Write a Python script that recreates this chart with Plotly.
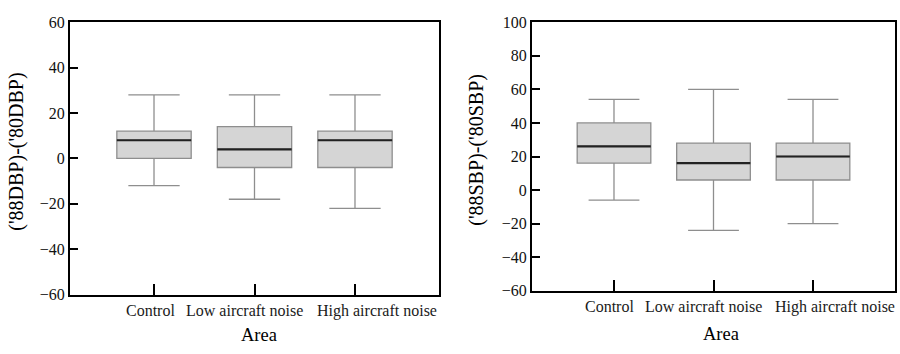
import plotly.graph_objects as go

categories = ["Control", "Low aircraft noise", "High aircraft noise"]

# Diastolic BP change ('88DBP)-('80DBP)
dbp_lower = [-12, -18, -22]
dbp_q1 = [0, -4, -4]
dbp_median = [8, 4, 8]
dbp_q3 = [12, 14, 12]
dbp_upper = [28, 28, 28]

# Systolic BP change ('88SBP)-('80SBP)
sbp_lower = [-6, -24, -20]
sbp_q1 = [16, 6, 6]
sbp_median = [26, 16, 20]
sbp_q3 = [40, 28, 28]
sbp_upper = [54, 60, 54]

y_titles = ["('88DBP)-('80DBP)", "('88SBP)-('80SBP)"]
x_title = "Area"
y_ranges = [[-60, 60], [-60, 100]]

SERIF = "Liberation Serif, Times New Roman, serif"
BOX_W = 0.74
GRAY = "#8e8e8e"

fig = go.Figure()

panels = [
    ("x", "y", dbp_lower, dbp_q1, dbp_median, dbp_q3, dbp_upper),
    ("x2", "y2", sbp_lower, sbp_q1, sbp_median, sbp_q3, sbp_upper),
]

for xa, ya, lo, q1, med, q3, up in panels:
    fig.add_trace(go.Box(
        x=categories, q1=q1, median=med, q3=q3,
        lowerfence=lo, upperfence=up,
        xaxis=xa, yaxis=ya,
        width=BOX_W, whiskerwidth=0.69,
        fillcolor="#d5d5d5",
        line=dict(color=GRAY, width=1.3),
        boxpoints=False, showlegend=False, hoverinfo="skip",
    ))
    # median line drawn as a degenerate box in black
    fig.add_trace(go.Box(
        x=categories, q1=med, median=med, q3=med,
        lowerfence=med, upperfence=med,
        xaxis=xa, yaxis=ya,
        width=BOX_W, whiskerwidth=0,
        fillcolor="rgba(0,0,0,0)",
        line=dict(color="#222222", width=2.2),
        boxpoints=False, showlegend=False, hoverinfo="skip",
    ))

axis_common = dict(
    showline=True, linecolor="black", linewidth=2, mirror=True,
    showgrid=False, zeroline=False,
    ticks="inside", tickcolor="black", tickwidth=2,
)

fig.update_layout(
    width=900, height=354,
    margin=dict(l=0, r=0, t=0, b=0),
    plot_bgcolor="white", paper_bgcolor="white",
    boxmode="overlay",
    font=dict(family=SERIF, color="black"),
    xaxis=dict(domain=[70/900, 439/900], type="category",
               range=[-0.836, 2.836], ticklen=11, showticklabels=False,
               anchor="y", **axis_common),
    yaxis=dict(domain=[1-301/354, 1-15/354], range=y_ranges[0], dtick=20,
               ticklen=8, tickfont=dict(size=16, family=SERIF, color="#111111"),
               anchor="x", **axis_common),
    xaxis2=dict(domain=[532/900, 895/900], type="category",
                range=[-0.824, 2.824], ticklen=11, showticklabels=False,
                anchor="y2", **axis_common),
    yaxis2=dict(domain=[1-297/354, 1-15/354], range=y_ranges[1], dtick=20,
                ticklen=8, tickfont=dict(size=16, family=SERIF, color="#111111"),
                anchor="x2", **axis_common),
)

label_shifts = [-4, -10, 22]
annotations = []
for xref, yref in [("x", "y domain"), ("x2", "y2 domain")]:
    for cat, sh in zip(categories, label_shifts):
        annotations.append(dict(
            x=cat, y=0, xref=xref, yref=yref, xanchor="center", yanchor="top",
            xshift=sh, yshift=-5, showarrow=False, text=cat,
            font=dict(size=16, family=SERIF, color="#1a1a1a"),
        ))

# axis titles
annotations += [
    dict(x=17/900, y=(1-301/354 + 1-15/354)/2 + 0.02, xref="paper", yref="paper",
         text=y_titles[0], textangle=-90, showarrow=False,
         xanchor="center", yanchor="middle", font=dict(size=20, family=SERIF)),
    dict(x=477/900, y=(1-297/354 + 1-15/354)/2 + 0.02, xref="paper", yref="paper",
         text=y_titles[1], textangle=-90, showarrow=False,
         xanchor="center", yanchor="middle", font=dict(size=20, family=SERIF)),
    dict(x=259/900, y=1-343/354, xref="paper", yref="paper", text=x_title,
         showarrow=False, xanchor="center", yanchor="middle",
         font=dict(size=18.5, family=SERIF)),
    dict(x=721/900, y=1-342/354, xref="paper", yref="paper", text=x_title,
         showarrow=False, xanchor="center", yanchor="middle",
         font=dict(size=18.5, family=SERIF)),
]
fig.update_layout(annotations=annotations)

fig.write_html(
    "out.html",
    config={"displayModeBar": False},
    post_script="document.body.style.margin='0';document.body.style.overflow='hidden';",
)
